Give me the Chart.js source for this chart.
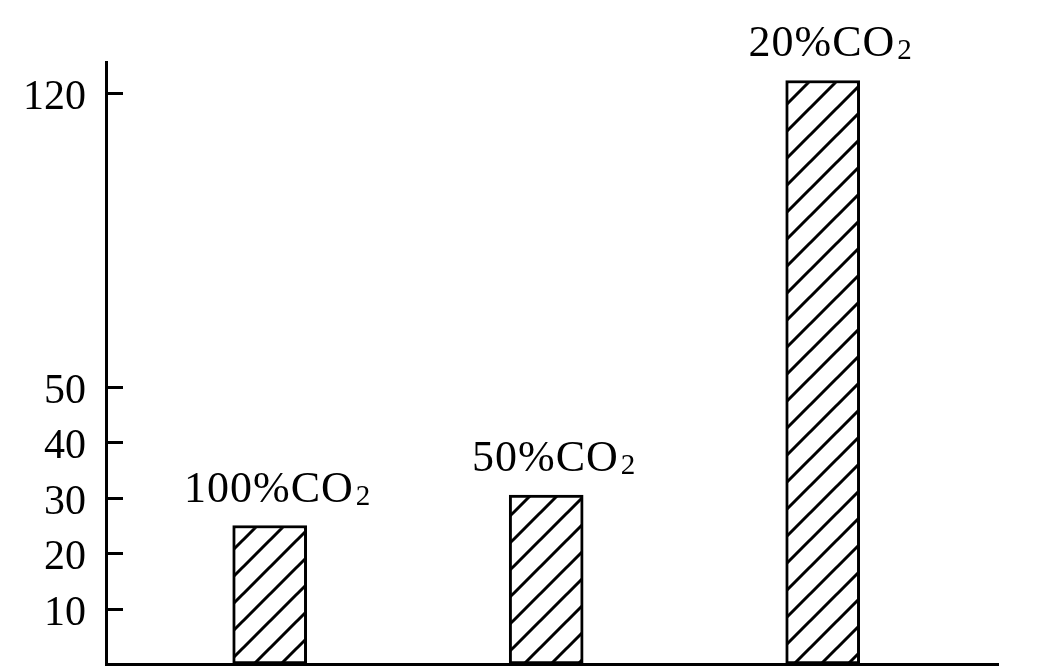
<!DOCTYPE html>
<html>
<head>
<meta charset="utf-8">
<script src="https://cdn.jsdelivr.net/npm/chart.js@4"></script>
<style>
html,body{margin:0;padding:0;background:#fff;}
#wrap{width:1039px;height:672px;}
</style>
</head>
<body>
<div id="wrap"><canvas id="c" width="1039" height="672"></canvas></div>
<script>
// ---- data ----
const categories = ['100%CO₂', '50%CO₂', '20%CO₂'];
const values = [25, 30.5, 123];
const yTickValues = [10, 20, 30, 40, 50, 120];
const yBreakValue = 50;   // axis scale changes above this value
const yMaxValue = 127.4;

const FONT = '"Liberation Serif", "Times New Roman", serif';
Chart.defaults.font.family = FONT;
Chart.defaults.color = '#000';

// piecewise-linear (broken) value axis
class BrokenLinearScale extends Chart.LinearScale {
  _share() { return this.options.breakShare ?? 0.46; }
  _brk() { return this.options.breakAt ?? yBreakValue; }
  _toDecimal(v) {
    const b = this._brk(), s = this._share();
    if (v <= b) return (v - this.min) / (b - this.min) * s;
    return s + (v - b) / (this.max - b) * (1 - s);
  }
  _fromDecimal(d) {
    const b = this._brk(), s = this._share();
    if (d <= s) return this.min + d / s * (b - this.min);
    return b + (d - s) / (1 - s) * (this.max - b);
  }
  getPixelForValue(value) {
    if (value === null || value === undefined || isNaN(value)) return NaN;
    return this.getPixelForDecimal(this._toDecimal(+value));
  }
  getValueForPixel(pixel) {
    return this._fromDecimal(this.getDecimalForPixel(pixel));
  }
}
BrokenLinearScale.id = 'brokenLinear';
BrokenLinearScale.defaults = Chart.LinearScale.defaults;
Chart.register(BrokenLinearScale);

function hatchPattern() {
  const s = 27;
  const c = document.createElement('canvas');
  c.width = s; c.height = s;
  const g = c.getContext('2d');
  g.fillStyle = '#fff';
  g.fillRect(0, 0, s, s);
  g.strokeStyle = '#000';
  g.lineWidth = 3;
  g.beginPath();
  g.moveTo(-3, s + 3); g.lineTo(s + 3, -3);
  g.moveTo(-3, 3); g.lineTo(3, -3);
  g.moveTo(s - 3, s + 3); g.lineTo(s + 3, s - 3);
  g.stroke();
  return g.createPattern(c, 'repeat');
}

const decor = {
  id: 'decor',
  afterDraw(chart) {
    const ctx = chart.ctx;
    const ys = chart.scales.y;
    const x0 = chart.chartArea.left;
    ctx.save();
    // inward tick marks
    ctx.strokeStyle = '#000';
    ctx.lineWidth = 3;
    ys.ticks.forEach(t => {
      const py = Math.round(ys.getPixelForValue(t.value)) + 0.5;
      ctx.beginPath();
      ctx.moveTo(x0, py);
      ctx.lineTo(x0 + 17, py);
      ctx.stroke();
    });
    // category labels above bars
    const meta = chart.getDatasetMeta(0);
    ctx.fillStyle = '#000';
    ctx.textAlign = 'left';
    ctx.textBaseline = 'alphabetic';
    meta.data.forEach((bar, i) => {
      const label = categories[i];
      const hasSub = label.endsWith('₂');
      const main = hasSub ? label.slice(0, -1) : label;
      const sub = hasSub ? '2' : '';
      ctx.letterSpacing = '1px';
      ctx.font = '44px ' + FONT;
      const w1 = ctx.measureText(main).width;
      ctx.font = '29px ' + FONT;
      const w2 = sub ? ctx.measureText(sub).width + 2 : 0;
      const left = bar.x + 8 - (w1 + w2) / 2;
      const base = bar.y - 24;
      ctx.font = '44px ' + FONT;
      ctx.fillText(main, left, base);
      if (sub) {
        ctx.font = '29px ' + FONT;
        ctx.fillText(sub, left + w1 + 2, base + 3);
      }
    });
    ctx.restore();
  }
};

new Chart(document.getElementById('c'), {
  type: 'bar',
  data: {
    datasets: [{
      data: values.map((v, i) => ({ x: i, y: v })),
      backgroundColor: hatchPattern(),
      borderColor: '#000',
      borderWidth: 3,
      borderSkipped: false,
      barThickness: 74
    }]
  },
  options: {
    responsive: false,
    animation: false,
    layout: { padding: { top: 62, right: 41, bottom: 0, left: 0 } },
    plugins: { legend: { display: false }, tooltip: { enabled: false } },
    scales: {
      x: {
        type: 'linear',
        offset: false,
        min: -0.592,
        max: 2.634,
        grid: { display: false },
        ticks: { display: false },
        border: { display: true, color: '#000', width: 3 },
        afterFit(s) { s.height = 8; s.paddingLeft = 0; s.paddingRight = 0; }
      },
      y: {
        type: 'brokenLinear',
        min: 0,
        max: yMaxValue,
        bounds: 'data',
        breakAt: yBreakValue,
        breakShare: 0.46,
        grid: { display: false },
        border: { display: true, color: '#000', width: 3 },
        ticks: {
          color: '#000',
          font: { size: 42, family: FONT },
          padding: 12,
          labelOffset: 5
        },
        afterBuildTicks(s) { s.ticks = yTickValues.map(v => ({ value: v })); },
        afterFit(s) { s.width = 106; s.paddingTop = 0; s.paddingBottom = 0; }
      }
    }
  },
  plugins: [decor]
});
</script>
</body>
</html>
